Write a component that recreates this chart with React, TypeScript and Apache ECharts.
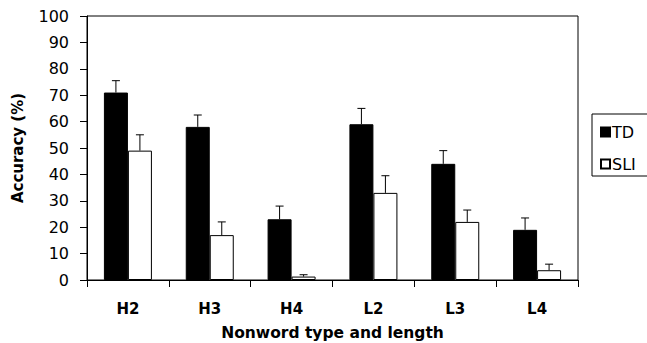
import React, { useEffect, useRef } from "react";
import * as echarts from "echarts";

const categories = ["H2", "H3", "H4", "L2", "L3", "L4"];
const tdValues = [71, 58, 23, 59, 44, 19];
const tdErrTop = [75.5, 62.5, 28, 65, 49, 23.5];
const sliValues = [49, 17, 1.3, 33, 22, 3.7];
const sliErrTop = [55, 22, 2, 39.5, 26.5, 6];
const yTicks = { min: 0, max: 100, interval: 10 };

const FONT = "DejaVu Sans";
const BAR_W = 24;

function errorSeries(name: string, values: number[], tops: number[], offset: number) {
  return {
    type: "custom",
    name: name + "-err",
    z: 5,
    data: values.map((v, i) => [i, v, tops[i]]),
    renderItem: (params: any, api: any) => {
      const i = api.value(0);
      const base = api.coord([i, api.value(1)]);
      const top = api.coord([i, api.value(2)]);
      const cx = base[0] + offset;
      return {
        type: "group",
        children: [
          {
            type: "line",
            shape: { x1: cx, y1: base[1], x2: cx, y2: top[1] },
            style: { stroke: "#000", lineWidth: 1 },
          },
          {
            type: "line",
            shape: { x1: cx - 4, y1: top[1], x2: cx + 4, y2: top[1] },
            style: { stroke: "#000", lineWidth: 1 },
          },
        ],
      };
    },
  };
}

export default function App() {
  const ref = useRef<HTMLDivElement>(null);
  useEffect(() => {
    if (!ref.current) return;
    const chart = echarts.init(ref.current, null, { renderer: "svg" });
    chart.setOption({
      animation: false,
      backgroundColor: "#fff",
      textStyle: { fontFamily: FONT },
      grid: {
        left: 87,
        top: 16,
        right: 69,
        bottom: 63,
        outerBoundsMode: "none",
        containLabel: false,
        show: true,
        borderColor: "#000",
        borderWidth: 1,
      },
      legend: {
        data: ["TD", "SLI"],
        orient: "vertical",
        left: 592,
        top: 114,
        icon: "rect",
        itemWidth: 9,
        itemHeight: 9,
        itemGap: 16,
        padding: [10, 30, 4, 8],
        borderColor: "#000",
        borderWidth: 1,
        textStyle: { fontFamily: FONT, fontSize: 16, color: "#000", padding: [0, 0, 0, -3] },
      },
      xAxis: {
        type: "category",
        data: categories,
        name: "Nonword type and length",
        nameLocation: "middle",
        nameGap: 45,
        nameTextStyle: { fontFamily: FONT, fontSize: 15.5, fontWeight: "bold", color: "#000" },
        axisLine: { lineStyle: { color: "#000", width: 1 } },
        axisTick: { show: true, length: 7, lineStyle: { color: "#000" } },
        axisLabel: { fontFamily: FONT, fontSize: 15, fontWeight: "bold", color: "#000", margin: 21 },
      },
      yAxis: {
        type: "value",
        min: yTicks.min,
        max: yTicks.max,
        interval: yTicks.interval,
        name: "Accuracy (%)",
        nameLocation: "middle",
        nameGap: 62,
        nameTextStyle: { fontFamily: FONT, fontSize: 15, fontWeight: "bold", color: "#000" },
        axisLine: { show: true, lineStyle: { color: "#000", width: 1 } },
        axisTick: { show: true, length: 7, lineStyle: { color: "#000" } },
        axisLabel: { fontFamily: FONT, fontSize: 16, color: "#000", margin: 18 },
        splitLine: { show: false },
      },
      series: [
        {
          type: "bar",
          name: "TD",
          data: tdValues,
          barWidth: BAR_W,
          barGap: "0%",
          itemStyle: { color: "#000", borderColor: "#000", borderWidth: 1 },
        },
        {
          type: "bar",
          name: "SLI",
          data: sliValues,
          barWidth: BAR_W,
          barGap: "0%",
          itemStyle: { color: "#fff", borderColor: "#000", borderWidth: 1 },
        },
        errorSeries("TD", tdValues, tdErrTop, -BAR_W / 2),
        errorSeries("SLI", sliValues, sliErrTop, BAR_W / 2),
      ],
    });
    return () => chart.dispose();
  }, []);
  return (
    <div
      ref={ref}
      style={{ position: "fixed", left: 0, top: 0, width: 647, height: 343, background: "#fff" }}
    />
  );
}
